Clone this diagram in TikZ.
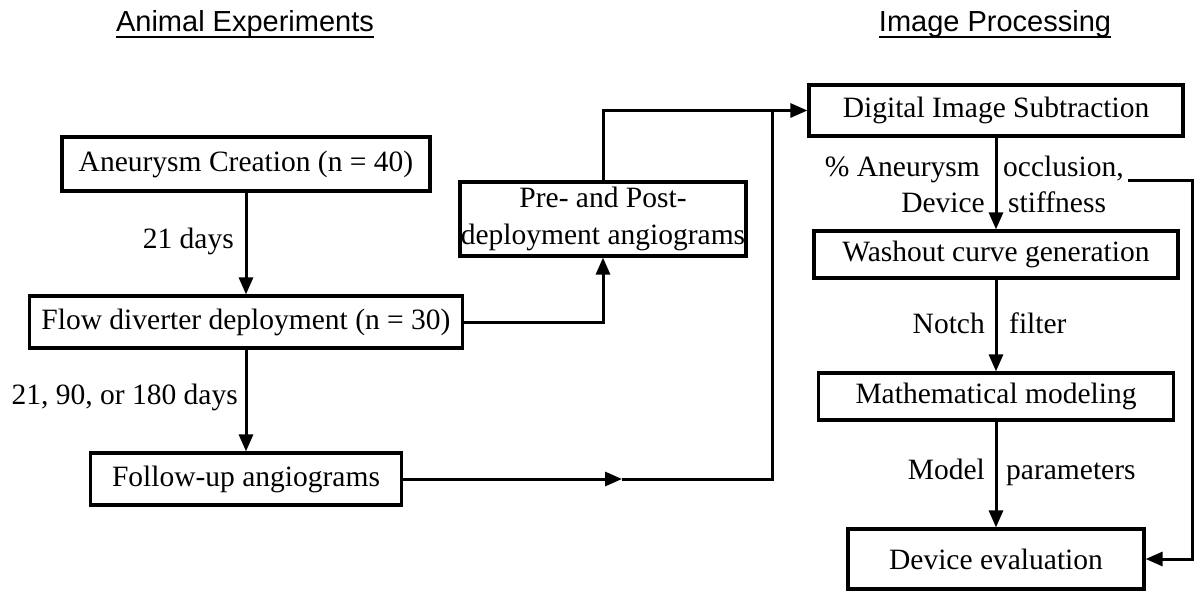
\documentclass[tikz,border=0pt]{standalone}
\usepackage{fontspec}
\setmainfont{Liberation Serif}
\newfontfamily\titlefont{Liberation Sans}
\usetikzlibrary{arrows.meta}
\begin{document}
\begin{tikzpicture}[x=1pt,y=-1pt,
 box/.style={draw, line width=3.2pt, inner sep=0pt, font=\fontsize{29.5}{37}\selectfont, align=center},
 lbl/.style={inner sep=0pt, font=\fontsize{29.5}{37}\selectfont},
 ttl/.style={inner sep=0pt, font=\titlefont\fontsize{29}{32}\selectfont},
 conn/.style={line width=3pt},
 arr/.style={conn, -{Triangle[length=17pt,width=14pt]}}]
\useasboundingbox (0,0) rectangle (1195,591);

% titles
\node[ttl, anchor=base] (t1) at (245,32) {Animal Experiments};
\node[ttl, anchor=base] (t2) at (995,32) {Image Processing};
\draw[line width=2.2pt] ([yshift=-5pt]t1.base west) -- ([yshift=-5pt]t1.base east);
\draw[line width=2.2pt] ([yshift=-5pt]t2.base west) -- ([yshift=-5pt]t2.base east);

% left column
\node[box, minimum width=368pt, minimum height=54pt] (aneu) at (246,164) {Aneurysm Creation (n = 40)};
\node[box, minimum width=433pt, minimum height=52pt] (flow) at (246,322) {Flow diverter deployment (n = 30)};
\node[box, minimum width=311pt, minimum height=52pt] (follow) at (246,479) {Follow-up angiograms};
\node[box, minimum width=286pt, minimum height=74pt] (pre) at (603,219) {Pre- and Post-\\deployment angiograms};

% right column
\node[box, minimum width=374pt, minimum height=51pt] (dis) at (996,110.5) {Digital Image Subtraction};
\node[box, minimum width=364pt, minimum height=47pt] (wash) at (996,254.5) {Washout curve generation};
\node[box, minimum width=355pt, minimum height=47pt] (math) at (996,396.5) {Mathematical modeling};
\node[box, minimum width=296pt, minimum height=60pt] (deval) at (996,559) {Device evaluation};

% labels
\node[lbl, anchor=base east] (l1) at (234,248) {21 days};
\node[lbl, anchor=base east] (l2) at (238,404) {21, 90, or 180 days};
\node[lbl, anchor=base east] (l3) at (980,177) {\% Aneurysm};
\node[lbl, anchor=base west] (l4) at (1003,177) {occlusion,};
\node[lbl, anchor=base east] (l5) at (985,213) {Device};
\node[lbl, anchor=base west] (l6) at (1008,213) {stiffness};
\node[lbl, anchor=base east] (l7) at (985,333) {Notch};
\node[lbl, anchor=base west] (l8) at (1009,333) {filter};
\node[lbl, anchor=base east] (l9) at (985,479) {Model};
\node[lbl, anchor=base west] (l10) at (1006,479) {parameters};

% connectors
\draw[arr] (aneu.south) -- (flow.north);
\draw[arr] (flow.south) -- (follow.north);
\draw[arr] (flow.east) -| (pre.south);
\draw[arr] (pre.north) |- (dis.west);
\coordinate (fm) at (622,479);
\coordinate (jt) at (772,110.5);
\draw[arr] (follow.east) -- (fm);
\draw[conn] (fm) -| (jt);
\draw[arr] (dis.south) -- (wash.north);
\draw[arr] (wash.south) -- (math.north);
\draw[arr] (math.south) -- (deval.north);
\coordinate (s1) at (1128,181);
\coordinate (s2) at (1192,181);
\draw[arr] (s1) -- (s2) |- (deval.east);
\end{tikzpicture}
\end{document}
